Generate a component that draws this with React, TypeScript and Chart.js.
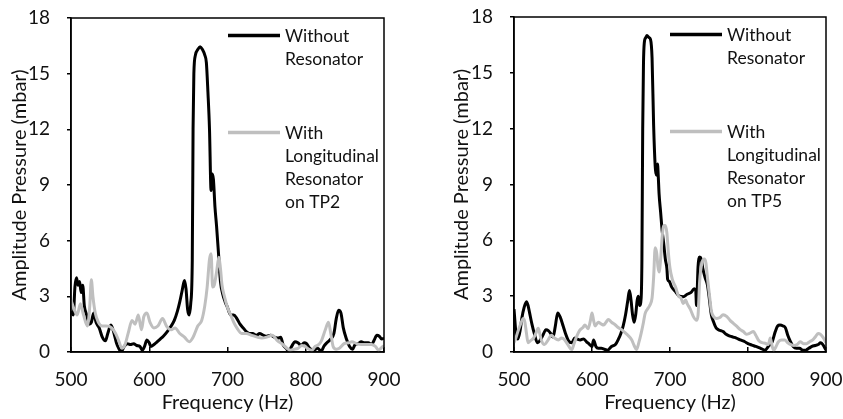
import React, { useEffect, useRef } from "react";
import { Chart, registerables } from "chart.js";

Chart.register(...registerables);

// ---------- data ----------
const xTicks = [500, 600, 700, 800, 900];
const yTicks = [0, 3, 6, 9, 12, 15, 18];

const seriesNames1 = ["Without Resonator", "With Longitudinal Resonator on TP2"];
const seriesNames2 = ["Without Resonator", "With Longitudinal Resonator on TP5"];
const legendBlackLines = ["Without", "Resonator"];
const legendGreyLines1 = ["With", "Longitudinal", "Resonator", "on TP2"];
const legendGreyLines2 = ["With", "Longitudinal", "Resonator", "on TP5"];

// Left chart (TP2) - without resonator
const leftBlackF = [500, 503, 505, 507, 509, 511, 513, 515, 517, 520, 523, 526, 529, 532, 536, 540, 544, 547, 551, 555, 558, 561, 564, 568, 572, 576, 580, 584, 588, 591, 594, 597, 600, 602, 606, 610, 614, 618, 623, 628, 632, 636, 639, 642, 645, 647, 649, 651, 653, 655, 656, 657, 659, 662, 665, 668, 671, 673, 675, 677, 679, 680, 682, 684, 686, 689, 691, 694, 697, 700, 704, 708, 712, 716, 720, 724, 728, 732, 737, 741, 746, 750, 755, 760, 765, 768, 771, 775, 778, 782, 786, 790, 794, 798, 801, 805, 810, 815, 820, 823, 827, 832, 836, 839, 842, 845, 848, 852, 856, 860, 863, 867, 871, 875, 880, 884, 887, 891, 894, 897, 900];
const leftBlackV = [2.2, 2.0, 3.5, 4.0, 3.6, 3.8, 3.2, 3.6, 2.5, 2.0, 1.5, 1.6, 2.1, 1.6, 1.3, 0.8, 0.6, 1.0, 1.45, 1.0, 0.5, 0.2, 0.0, 0.3, 0.45, 0.4, 0.45, 0.35, 0.3, 0.1, 0.3, 0.65, 0.5, 0.3, 0.4, 0.55, 0.7, 0.85, 1.1, 1.4, 1.7, 2.2, 2.7, 3.3, 3.85, 3.4, 2.3, 2.0, 2.6, 5.0, 12.0, 15.0, 16.0, 16.3, 16.45, 16.3, 16.0, 15.6, 14.0, 12.0, 8.7, 9.6, 9.3, 7.8, 6.8, 5.0, 3.8, 3.1, 2.7, 2.4, 2.0, 2.0, 1.8, 1.5, 1.3, 1.1, 1.0, 1.0, 0.9, 1.0, 0.9, 0.85, 0.9, 0.8, 0.75, 0.8, 0.4, 0.2, 0.05, 0.3, 0.55, 0.5, 0.35, 0.5, 0.45, 0.2, 0.1, 0.2, 0.05, 0.3, 0.5, 0.7, 1.0, 1.8, 2.25, 2.1, 1.3, 0.7, 0.3, 0.15, 0.4, 0.45, 0.55, 0.5, 0.5, 0.4, 0.6, 0.9, 0.85, 0.7, 0.75];

// Left chart (TP2) - with resonator
const leftGreyF = [500, 504, 508, 512, 516, 521, 524, 526, 528, 531, 535, 540, 545, 552, 557, 561, 565, 569, 573, 578, 582, 586, 590, 593, 597, 601, 606, 611, 617, 622, 628, 633, 639, 645, 651, 656, 662, 667, 671, 674, 677, 679, 681, 683, 686, 689, 691, 693, 696, 700, 704, 708, 712, 718, 724, 731, 738, 744, 750, 757, 764, 771, 776, 780, 785, 790, 795, 799, 804, 808, 812, 816, 820, 825, 829, 832, 835, 839, 843, 849, 855, 859, 865, 871, 878, 884, 889, 893, 896, 900];
const leftGreyV = [2.8, 2.3, 2.0, 2.6, 2.0, 1.4, 2.5, 3.9, 3.0, 2.1, 1.6, 1.4, 1.4, 1.3, 1.0, 0.6, 0.2, 0.4, 1.0, 1.7, 1.5, 2.0, 1.2, 1.9, 2.1, 1.6, 1.3, 1.4, 1.8, 1.4, 1.2, 1.3, 1.0, 0.8, 0.55, 0.8, 1.4, 1.7, 2.5, 3.5, 5.0, 5.3, 3.5, 3.6, 4.3, 5.1, 4.5, 3.6, 3.0, 2.4, 2.0, 1.6, 1.3, 1.0, 1.0, 0.9, 0.8, 0.75, 0.8, 0.9, 0.6, 0.4, 0.2, 0.1, 0.15, 0.2, 0.35, 0.3, 0.15, 0.1, 0.3, 0.38, 0.6, 1.2, 1.6, 1.0, 0.3, 0.15, 0.2, 0.45, 0.5, 0.55, 0.45, 0.4, 0.4, 0.4, 0.3, 0.1, 0.2, 0.35];

// Right chart (TP5) - without resonator
const rightBlackF = [500, 503, 505, 508, 510, 513, 516, 518, 520, 523, 526, 530, 533, 537, 541, 544, 547, 550, 553, 556, 559, 563, 566, 570, 574, 578, 581, 585, 589, 593, 597, 600, 602, 605, 608, 612, 616, 620, 625, 630, 634, 637, 640, 643, 646, 648, 650, 652, 654, 656, 658, 659.5, 661, 663, 664, 665, 666, 667, 669, 670.5, 673, 675, 677, 679, 681, 682, 683, 684, 685, 686, 688, 690, 692, 694, 696, 697, 699, 702, 707, 712, 717, 722, 727, 731, 733, 734, 736, 738, 740, 742, 745, 748, 750, 753, 756, 759, 762, 765, 768, 772, 777, 781, 785, 790, 796, 800, 805, 810, 816, 822, 826, 831, 835, 838, 841, 845, 848, 851, 854, 858, 862, 866, 870, 874, 878, 882, 886, 890, 893, 896, 898, 900];
const rightBlackV = [2.3, 0.85, 0.7, 1.2, 1.8, 2.4, 2.7, 2.5, 2.1, 1.5, 1.0, 0.5, 0.6, 0.9, 1.2, 1.15, 1.0, 0.8, 1.4, 2.1, 1.9, 1.4, 1.0, 0.6, 0.5, 0.75, 0.7, 0.65, 0.7, 0.55, 0.4, 0.3, 0.65, 0.3, 0.2, 0.2, 0.15, 0.1, 0.3, 0.4, 0.7, 1.0, 1.4, 2.0, 2.8, 3.3, 2.8, 2.0, 1.6, 2.0, 2.8, 3.0, 2.5, 2.9, 5.0, 12.0, 15.5, 16.6, 16.9, 17.0, 16.9, 16.8, 15.8, 12.2, 10.0, 9.6, 9.5, 10.1, 9.4, 8.5, 7.5, 6.5, 5.8, 5.0, 4.5, 3.9, 3.8, 3.5, 3.25, 3.0, 2.97, 3.1, 3.2, 3.4, 3.3, 2.5, 4.6, 5.1, 5.0, 4.5, 4.0, 3.6, 3.0, 2.0, 1.6, 1.3, 1.2, 1.15, 1.1, 0.95, 0.85, 0.8, 0.75, 0.65, 0.55, 0.45, 0.37, 0.3, 0.2, 0.1, 0.3, 0.55, 1.1, 1.4, 1.45, 1.4, 1.3, 0.9, 0.6, 0.3, 0.2, 0.2, 0.1, 0.1, 0.2, 0.3, 0.35, 0.4, 0.5, 0.4, 0.25, 0.1];

// Right chart (TP5) - with resonator
const rightGreyF = [500, 502, 505, 508, 512, 514, 516, 518, 521, 525, 528, 531, 533, 535, 539, 543, 548, 552, 557, 561, 565, 569, 574, 577, 580, 584, 588, 591, 595, 598, 600, 602, 604, 608, 612, 615, 618, 621, 625, 630, 634, 638, 642, 646, 651, 654, 657, 660, 663, 666, 668, 671, 674, 677, 679, 681, 683, 684.5, 686, 688, 690, 692, 694, 696, 698, 700, 703, 707, 711, 714, 717, 720, 722, 726, 730, 734, 736, 738, 741, 744, 746, 748, 751, 753, 756, 760, 764, 768, 773, 777, 781, 785, 790, 794, 798, 802, 807, 810, 814, 818, 822, 826, 828.6, 831, 833, 836, 839, 843, 847, 851, 855, 859, 863, 867, 871, 875, 879, 883, 887, 890, 893, 896, 900];
const rightGreyV = [0.5, 0.7, 1.1, 1.45, 1.8, 1.6, 1.0, 0.5, 0.6, 0.75, 1.0, 1.27, 1.0, 0.65, 0.4, 0.6, 0.9, 0.75, 0.65, 0.75, 0.65, 0.4, 0.13, 0.45, 0.8, 1.15, 1.3, 1.45, 1.25, 1.7, 2.1, 1.7, 1.4, 1.6, 1.5, 1.45, 1.6, 1.75, 1.6, 1.45, 1.3, 1.2, 1.05, 0.9, 0.65, 0.35, 0.13, 0.5, 1.0, 1.6, 2.05, 2.3, 2.5, 2.9, 4.0, 5.6, 5.3, 4.6, 4.3, 5.0, 6.2, 6.8, 6.8, 6.4, 5.3, 4.5, 3.9, 3.5, 3.0, 2.9, 2.6, 2.8, 2.6, 2.3, 1.9, 1.7, 2.0, 3.8, 4.8, 5.0, 4.8, 4.0, 2.9, 2.2, 1.9, 1.8, 1.85, 2.0, 1.9, 1.7, 1.55, 1.4, 1.2, 1.1, 0.95, 1.0, 1.1, 0.9, 0.6, 0.5, 0.47, 0.4, 0.75, 0.3, 0.1, 0.3, 0.55, 0.65, 0.65, 0.5, 0.4, 0.35, 0.4, 0.55, 0.45, 0.45, 0.55, 0.65, 0.85, 1.0, 0.95, 0.8, 0.5];

// ---------- styling ----------
const FONT = "Lato, 'Open Sans', sans-serif";
const TEXT_COLOR = "#111111";
const BLACK = "#000000";
const GREY = "#bfbfbf";
const TICK_SIZE = 19;
const TITLE_SIZE = 20;
const LEGEND_SIZE = 17.5;

const toPts = (f: number[], v: number[]) => f.map((x, i) => ({ x, y: v[i] }));

const framePlugin = {
  id: "frame",
  afterDatasetsDraw(chart: any) {
    const { ctx, chartArea } = chart;
    ctx.save();
    ctx.strokeStyle = "#000";
    ctx.lineWidth = 1.5;
    ctx.strokeRect(chartArea.left, chartArea.top, chartArea.right - chartArea.left, chartArea.bottom - chartArea.top);
    ctx.restore();
  },
};

function makeLegendPlugin(groups: string[][]) {
  return {
    id: "insideLegend",
    afterDraw(chart: any) {
      const { ctx, chartArea } = chart;
      const startY = [chartArea.top + 17.5, chartArea.top + 114.5];
      ctx.save();
      ctx.font = `${LEGEND_SIZE}px ${FONT}`;
      ctx.textBaseline = "middle";
      ctx.textAlign = "left";
      groups.forEach((lines, i) => {
        const ds = chart.data.datasets[i];
        const y0 = startY[i];
        ctx.strokeStyle = ds.borderColor;
        ctx.lineWidth = 3.5;
        ctx.beginPath();
        ctx.moveTo(chartArea.right - 156, y0);
        ctx.lineTo(chartArea.right - 104, y0);
        ctx.stroke();
        ctx.fillStyle = TEXT_COLOR;
        lines.forEach((t, j) => {
          ctx.fillText(t, chartArea.right - 99, y0 + 1 + j * 23);
        });
      });
      ctx.restore();
    },
  };
}

type PanelProps = {
  blackF: number[];
  blackV: number[];
  greyF: number[];
  greyV: number[];
  names: string[];
  greyLegend: string[];
  yWidth: number;
  padRight: number;
  padTop: number;
  yTitlePad: number;
  width: number;
  left: number;
};

function Panel(p: PanelProps) {
  const ref = useRef<HTMLCanvasElement | null>(null);
  useEffect(() => {
    if (!ref.current) return;
    const chart = new Chart(ref.current, {
      type: "line",
      data: {
        datasets: [
          {
            label: p.names[0],
            data: toPts(p.blackF, p.blackV),
            borderColor: BLACK,
            borderWidth: 3,
            pointRadius: 0,
            cubicInterpolationMode: "monotone",
            order: 1,
          },
          {
            label: p.names[1],
            data: toPts(p.greyF, p.greyV),
            borderColor: GREY,
            borderWidth: 3,
            pointRadius: 0,
            cubicInterpolationMode: "monotone",
            order: 0,
          },
        ],
      },
      options: {
        responsive: false,
        animation: false,
        layout: { padding: { left: 0, right: p.padRight, top: p.padTop, bottom: 0 } },
        plugins: { legend: { display: false }, tooltip: { enabled: false } },
        scales: {
          x: {
            type: "linear",
            min: 500,
            max: 900,
            afterBuildTicks: (s: any) => {
              s.ticks = xTicks.map((v) => ({ value: v }));
            },
            afterFit: (s: any) => {
              s.height = 67;
              s.paddingLeft = 0;
              s.paddingRight = 0;
            },
            ticks: { font: { family: FONT, size: TICK_SIZE }, color: TEXT_COLOR, padding: 21, maxRotation: 0 },
            grid: { drawOnChartArea: false, drawTicks: true, tickLength: -5, color: "#000", lineWidth: 1.5 },
            border: { display: true, color: "#000", width: 1.5 },
            title: {
              display: true,
              text: "Frequency (Hz)",
              font: { family: FONT, size: TITLE_SIZE },
              color: TEXT_COLOR,
              padding: { top: 0, bottom: 4 },
            },
          },
          y: {
            type: "linear",
            min: 0,
            max: 18,
            afterBuildTicks: (s: any) => {
              s.ticks = yTicks.map((v) => ({ value: v }));
            },
            afterFit: (s: any) => {
              s.width = p.yWidth;
              s.paddingTop = 0;
              s.paddingBottom = 0;
            },
            ticks: { font: { family: FONT, size: TICK_SIZE }, color: TEXT_COLOR, padding: 17 },
            grid: { drawOnChartArea: false, drawTicks: true, tickLength: 4, color: "#000", lineWidth: 1.5 },
            border: { display: true, color: "#000", width: 1.5 },
            title: {
              display: true,
              text: "Amplitude Pressure (mbar)",
              font: { family: FONT, size: TITLE_SIZE },
              color: TEXT_COLOR,
              padding: { top: p.yTitlePad, bottom: 0 },
            },
          },
        },
      },
      plugins: [framePlugin, makeLegendPlugin([legendBlackLines, p.greyLegend])],
    } as any);
    return () => chart.destroy();
  }, []);
  return (
    <canvas
      ref={ref}
      width={p.width}
      height={419}
      style={{ position: "absolute", left: p.left, top: 0, width: p.width, height: 419 }}
    />
  );
}

export default function App() {
  return (
    <div style={{ position: "fixed", left: 0, top: 0, width: 843, height: 419, background: "#fff" }}>
      <Panel
        blackF={leftBlackF}
        blackV={leftBlackV}
        greyF={leftGreyF}
        greyV={leftGreyV}
        names={seriesNames1}
        greyLegend={legendGreyLines1}
        yWidth={71}
        padRight={37}
        padTop={18}
        yTitlePad={8}
        width={421}
        left={0}
      />
      <Panel
        blackF={rightBlackF}
        blackV={rightBlackV}
        greyF={rightGreyF}
        greyV={rightGreyV}
        names={seriesNames2}
        greyLegend={legendGreyLines2}
        yWidth={93}
        padRight={17}
        padTop={17}
        yTitlePad={29}
        width={422}
        left={421}
      />
    </div>
  );
}
